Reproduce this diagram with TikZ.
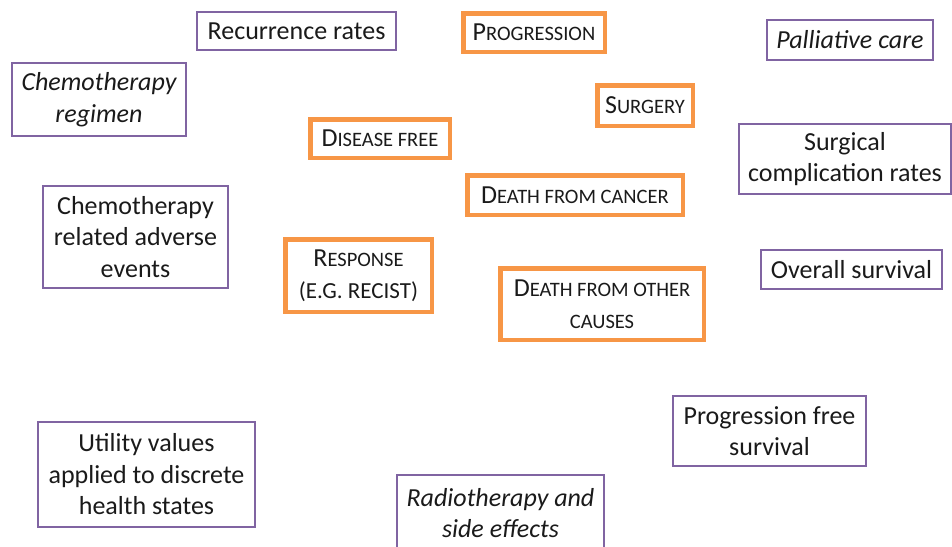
\documentclass[tikz,border=0pt]{standalone}
\usepackage{fontspec}
\setmainfont{Carlito}
\definecolor{boxpurple}{HTML}{8064A2}
\definecolor{boxorange}{HTML}{F79646}
\definecolor{txt}{HTML}{1A1A1A}
\newcommand\fsc[1]{{\fontsize{20.5}{31}\selectfont #1}}
\begin{document}
\begin{tikzpicture}[x=1pt,y=-1pt,
  every node/.style={font=\fontsize{26}{31.5}\selectfont, text=txt, align=center, inner sep=0pt},
  pbox/.style={draw=boxpurple, line width=1.6pt, rectangle},
  obox/.style={draw=boxorange, line width=4.5pt, rectangle}]
\useasboundingbox (0,0) rectangle (952,546);
\clip (0,0) rectangle (952,546);
\node[pbox, minimum width=199.5, minimum height=38.5] (rec) at (296.5,31) {Recurrence rates};
\node[obox, minimum width=141.5, minimum height=38.5] (prog) at (534,32.5) {P\fsc{ROGRESSION}};
\node[pbox, minimum width=166.5, minimum height=40.5] (pall) at (850,40) {\itshape Palliative care};
\node[pbox, minimum width=174.5, minimum height=73.5] (chemreg) at (99,99.5) {\itshape Chemotherapy\\\itshape regimen};
\node[obox, minimum width=95.5, minimum height=40.5] (surg) at (645,105.5) {S\fsc{URGERY}};
\node[obox, minimum width=139.5, minimum height=38.5] (dfree) at (380,138.5) {D\fsc{ISEASE FREE}};
\node[pbox, minimum width=212.5, minimum height=70.5] (surgcomp) at (845,159) {Surgical\\complication rates};
\node[pbox, minimum width=185.5, minimum height=102.5] (chemae) at (135.5,237) {Chemotherapy\\related adverse\\events};
\node[obox, minimum width=215.5, minimum height=39.5] (dcancer) at (575,195) {D\fsc{EATH FROM CANCER}};
\node[obox, minimum width=146.5, minimum height=72.5] (resp) at (358.5,275.5) {R\fsc{ESPONSE}\\{\fontsize{23}{31}\selectfont(E.G. RECIST)}};
\node[pbox, minimum width=181.5, minimum height=39.5] (overall) at (851.5,269.5) {Overall survival};
\node[obox, minimum width=203.5, minimum height=71.5] (dother) at (602,304) {D\fsc{EATH FROM OTHER}\\\fsc{CAUSES}};
\node[pbox, minimum width=217.5, minimum height=105.5] (utility) at (146.5,474.5) {Utility values\\applied to discrete\\health states};
\node[pbox, minimum width=193.5, minimum height=70.5] (pfs) at (769.5,431) {Progression free\\survival};
\node[pbox, minimum width=207.5, minimum height=75.5] (radio) at (500.5,513) {\itshape Radiotherapy and\\\itshape side effects};
\end{tikzpicture}
\end{document}
